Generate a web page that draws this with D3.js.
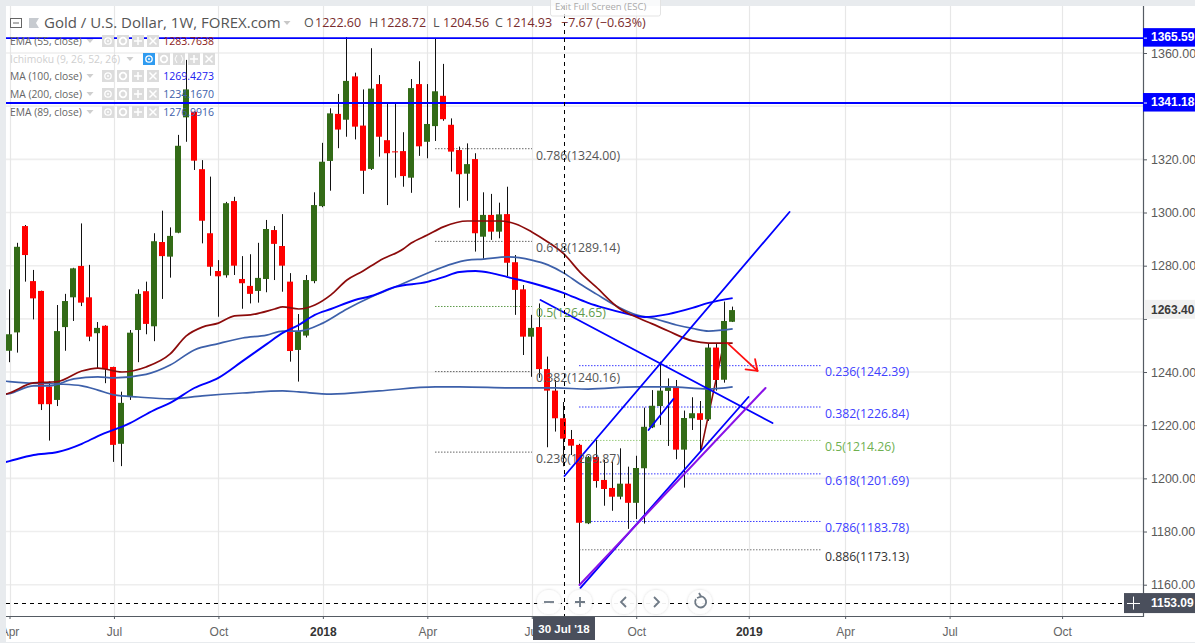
<!DOCTYPE html>
<html><head><meta charset="utf-8">
<script src="https://cdn.jsdelivr.net/npm/d3@7"></script>
<style>html,body{margin:0;padding:0;background:#fff}svg{display:block}text{font-family:"Open Sans","Noto Sans",sans-serif}</style>
</head><body><svg id="c" width="1195" height="643"></svg>
<script>
const firstWeek = "2017-04-03";
const opens = [1248.0,1254.9,1294.9,1274.2,1270.5,1234.5,1229.5,1256.9,1268.1,1279.9,
1268.1,1254.6,1257.4,1241.9,1213.0,1231.0,1255.8,1270.4,1257.2,1288.9,
1283.4,1292.4,1335.8,1337.9,1316.3,1292.2,1278.0,1276.4,1304.3,1275.0,
1272.4,1270.5,1275.0,1293.4,1287.4,1274.0,1248.3,1253.7,1274.2,1302.4,
1319.4,1337.1,1334.9,1351.2,1332.7,1316.4,1348.3,1327.2,1323.0,1323.1,
1313.1,1348.3,1326.6,1332.5,1343.9,1333.0,1323.5,1314.6,1320.1,1290.9,
1299.1,1292.8,1299.4,1281.3,1271.1,1253.3,1256.9,1241.1,1233.0,1222.6,
1214.8,1212.6,1183.1,1208.0,1199.4,1196.4,1193.1,1198.0,1190.8,1203.8,
1219.2,1227.2,1232.9,1234.5,1210.8,1222.6,1224.5,1222.2,1249.2,1237.1,1258.9];
const highs = [1271.1,1288.6,1295.3,1278.4,1270.6,1236.4,1265.2,1269.4,1279.2,1295.9,
1280.3,1258.8,1257.6,1242.0,1232.6,1255.8,1271.1,1274.0,1292.2,1300.7,
1294.4,1329.2,1357.4,1338.0,1319.7,1313.5,1282.1,1304.0,1305.9,1283.6,
1284.3,1288.6,1297.2,1294.9,1299.4,1277.2,1261.8,1276.5,1307.6,1326.2,
1339.2,1344.6,1366.0,1352.6,1346.3,1361.8,1351.7,1341.1,1340.8,1330.2,
1350.2,1356.9,1348.3,1365.6,1355.9,1335.4,1324.8,1326.0,1322.3,1307.6,
1307.0,1303.7,1309.7,1284.0,1272.7,1261.5,1265.8,1245.8,1237.0,1228.72,
1218.2,1213.0,1208.4,1214.4,1206.9,1206.3,1211.3,1204.4,1208.5,1226.6,
1233.2,1243.9,1237.6,1237.0,1225.5,1230.5,1229.1,1250.9,1250.9,1266.5,1264.6];
const lows = [1243.7,1247.3,1274.0,1259.8,1225.7,1214.2,1227.2,1248.0,1259.2,1264.8,
1251.6,1241.5,1235.8,1206.2,1204.6,1229.5,1243.7,1254.2,1251.6,1267.5,
1275.5,1292.2,1326.6,1316.0,1288.4,1276.2,1260.8,1275.5,1276.5,1263.8,
1265.8,1266.1,1270.0,1274.6,1270.2,1243.9,1236.4,1253.0,1273.4,1302.0,
1308.2,1324.2,1328.5,1327.5,1307.0,1316.0,1321.0,1302.8,1313.1,1309.7,
1307.4,1321.3,1320.4,1326.9,1334.5,1315.4,1301.8,1304.4,1285.3,1282.6,
1289.7,1290.3,1276.1,1261.5,1246.4,1238.2,1237.8,1211.7,1217.6,1204.56,
1208.8,1160.3,1182.8,1196.5,1189.7,1187.8,1192.1,1181.0,1184.7,1183.0,
1218.9,1220.1,1212.2,1207.2,1196.5,1218.2,1210.7,1221.6,1233.0,1236.0,1258.8];
const closes = [1254.2,1287.1,1284.0,1267.7,1227.9,1227.9,1255.4,1266.7,1279.0,1266.1,
1253.3,1256.6,1241.1,1212.6,1228.4,1254.8,1269.4,1258.1,1289.2,1283.6,
1291.2,1325.1,1346.3,1319.5,1296.9,1279.6,1276.0,1303.5,1280.0,1273.4,
1269.4,1275.4,1293.8,1288.2,1280.0,1247.9,1255.4,1274.6,1302.8,1319.1,
1337.3,1331.2,1349.5,1332.3,1315.7,1346.6,1328.5,1322.3,1322.8,1313.7,
1346.8,1324.9,1333.3,1345.6,1335.1,1322.9,1314.4,1318.2,1292.2,1299.1,
1292.8,1299.3,1281.1,1270.9,1253.3,1256.6,1241.1,1233.0,1222.6,1214.93,
1212.3,1183.3,1208.0,1199.0,1196.0,1193.1,1198.0,1190.8,1203.9,1219.4,
1227.3,1233.0,1234.5,1210.8,1222.7,1224.5,1222.0,1249.2,1237.0,1259.2,1263.3];

// moving averages: [week index, price]
const ema55 = [[-1,1231.2],[0,1232.1],[3,1235.9],[5,1236.2],[6,1236.4],[9,1240.4],[11,1241.5],[14,1240.0],[17,1241.9],[20,1246.8],[22,1253.6],[24,1256.9],[26,1258.4],[28,1261.1],[30,1261.5],[33,1263.7],[34,1264.5],[36,1263.7],[38,1265.2],[40,1269.0],[42,1274.6],[44,1278.0],[46,1281.8],[49,1286.3],[50,1288.5],[52,1291.5],[54,1294.6],[57,1296.8],[61,1296.8],[63,1295.7],[65,1292.7],[67,1288.9],[69,1284.4],[71,1277.6],[73,1272.0],[76,1263.7],[78,1260.7],[80,1258.1],[82,1255.4],[85,1251.7],[87,1250.9],[90,1250.9]];
const ema89 = [[-1,1231.4],[0,1231.9],[3,1234.8],[5,1234.8],[8,1237.4],[11,1238.2],[13,1237.8],[17,1239.1],[20,1242.6],[23,1248.3],[26,1250.7],[29,1252.8],[32,1253.9],[34,1255.4],[36,1255.4],[39,1258.4],[42,1263.7],[45,1268.2],[48,1272.0],[50,1274.6],[53,1278.4],[55,1280.6],[57,1282.1],[59,1282.5],[62,1283.3],[65,1282.1],[67,1280.3],[69,1277.2],[71,1273.1],[73,1269.4],[76,1264.1],[78,1261.5],[80,1260.3],[83,1257.7],[85,1256.4],[87,1255.4],[90,1256.2]];
const ma100 = [[-1,1205.7],[0,1206.5],[3,1208.8],[6,1209.9],[9,1213.0],[11,1215.9],[15,1220.8],[18,1225.7],[20,1228.4],[23,1234.0],[26,1237.8],[29,1244.1],[32,1250.5],[34,1254.7],[36,1257.7],[38,1261.5],[40,1263.7],[43,1267.1],[45,1268.6],[48,1272.0],[52,1273.9],[54,1275.7],[56,1277.6],[58,1278.0],[60,1277.2],[62,1275.7],[65,1273.5],[69,1269.7],[72,1266.0],[74,1264.1],[77,1261.8],[79,1260.7],[82,1261.8],[85,1264.1],[87,1266.0],[90,1267.8]];
const ma200 = [[-1,1236.7],[0,1236.4],[2,1235.9],[6,1235.5],[9,1234.8],[11,1233.2],[13,1231.4],[16,1230.6],[20,1229.9],[24,1231.0],[29,1232.1],[34,1232.9],[36,1232.5],[40,1231.7],[46,1232.9],[53,1234.4],[56,1234.4],[63,1234.0],[68,1234.0],[72,1233.6],[78,1234.4],[82,1234.4],[87,1233.6],[90,1234.4]];

// hand-drawn trend lines: [week, price, week, price]
const blueTrends = [[69.07,1200.9,97.08,1300.2],[79.53,1218.2,82.64,1229.9],[66.09,1267.1,94.96,1220.8],[71.06,1158.8,91.97,1230.6]];
const purpleTrend = [70.94,1159.9,94.09,1234.0];
const darkRedTrend = [86.06,1210.7,88.86,1250.2];
const redArrow = [89.36,1250.9,93.09,1240.4];
const hLevels = [1365.59,1341.18];

const fibLeft = [[0.786,1324.00],[0.618,1289.14],[0.5,1264.65],[0.382,1240.16],[0.236,1209.87]];
const fibRight = [[0.236,1242.39],[0.382,1226.84],[0.5,1214.26],[0.618,1201.69],[0.786,1183.78],[0.886,1173.13]];

const priceTicks = [1360,1340,1320,1300,1280,1260,1240,1220,1200,1180,1160];
const hiddenPriceLabels = [1340,1260]; // covered by the price badges
const timeTickDates = ["2017-04-03","2017-07-03","2017-10-02","2018-01-01","2018-04-02","2018-07-02","2018-10-01","2019-01-07","2019-04-01","2019-07-01","2019-10-07"];
const timeTickLabels = ["Apr","Jul","Oct","2018","Apr","Jul","Oct","2019","Apr","Jul","Oct"];
const crosshairDate = "2018-07-30", crosshairPrice = 1153.09, lastPrice = 1263.40;
const legendRows = [["EMA (55, close)","1283.7638"],["Ichimoku (9, 26, 52, 26)",""],["MA (100, close)","1269.4273"],["MA (200, close)","1234.1670"],["EMA (89, close)","1276.9916"]];
const ohlcLabels = [["O","1222.60"],["H","1228.72"],["L","1204.56"],["C","1214.93"]];

const L=6,T=6,R=1143,B=616;
const WEEK=7*864e5, t0=Date.parse(firstWeek+"T00:00:00Z");
const dateOf=w=>new Date(t0+w*WEEK);
const x=d3.scaleUtc().domain([dateOf(0),dateOf(90)]).range([9.5,9.5+8.035*90]);
const y=d3.scaleLinear().domain([1360,1160]).range([53,584.7]);
const X=w=>x(dateOf(w));
const svg=d3.select("#c");
const GREEN="#336b17",RED="#ff0000",PURE="#0000ff",STEEL="#3d60aa",DRED="#8c0b0b",AX="#555b63",TXT="#5a5a5a";
const SANS="'Liberation Sans',sans-serif";

svg.append("rect").attr("width",1195).attr("height",643).attr("fill","#fff");
svg.append("defs").append("clipPath").attr("id","p").append("rect").attr("x",L).attr("y",T).attr("width",R-L).attr("height",B-T);
const defs=svg.select("defs");
const flt=defs.append("filter").attr("id","sh").attr("x","-30%").attr("y","-30%").attr("width","160%").attr("height","160%");
flt.append("feDropShadow").attr("dx",0).attr("dy",0).attr("stdDeviation",1.5).attr("flood-color","#000").attr("flood-opacity",0.18);

// frame bands
svg.append("rect").attr("width",1195).attr("height",T).attr("fill","#e8ebee");
svg.append("rect").attr("width",L).attr("height",643).attr("fill","#e8ebee");
svg.append("rect").attr("y",642).attr("width",1195).attr("height",1).attr("fill","#e8ebee");

const plot=svg.append("g").attr("clip-path","url(#p)");
// grid
plot.selectAll(".gh").data(priceTicks).join("line").attr("x1",L).attr("x2",R)
 .attr("y1",d=>y(d)).attr("y2",d=>y(d)).attr("stroke","#eeeeee").attr("stroke-width",1.6);
const tickDates=timeTickDates.map(d=>new Date(d+"T00:00:00Z"));
plot.selectAll(".gv").data(tickDates).join("line").attr("y1",T).attr("y2",B)
 .attr("x1",d=>Math.round(x(d))+.5).attr("x2",d=>Math.round(x(d))+.5).attr("stroke","#e7e7e7").attr("stroke-width",1.2);

// axes
const yAxis=d3.axisRight(y).tickValues(priceTicks).tickFormat(d=>hiddenPriceLabels.includes(d)?"":d3.format(".2f")(d)).tickSize(4).tickPadding(4);
const yg=svg.append("g").attr("transform",`translate(${R},0)`).call(yAxis);
yg.select(".domain").remove();
svg.append("line").attr("x1",R+.5).attr("x2",R+.5).attr("y1",T).attr("y2",B+1).attr("stroke",AX).attr("stroke-width",1.2);
yg.selectAll("line").attr("stroke",AX);
yg.selectAll("text").attr("fill",TXT).style("font-family",SANS).style("font-size","12.5px");
const xAxis=d3.axisBottom(x).tickValues(tickDates).tickFormat((d,i)=>timeTickLabels[i]).tickSize(3).tickPadding(8);
const xg=svg.append("g").attr("transform",`translate(0,${B})`).call(xAxis);
xg.select(".domain").remove();
svg.append("line").attr("x1",L).attr("x2",R).attr("y1",B+.5).attr("y2",B+.5).attr("stroke",AX).attr("stroke-width",1.2);
xg.selectAll("line").attr("stroke",AX);
xg.selectAll("text").style("font-family",SANS).style("font-size","12px")
  .style("font-weight",(d,i)=>/^20/.test(timeTickLabels[i])?"700":"400")
  .attr("fill",(d,i)=>/^20/.test(timeTickLabels[i])?"#333":"#666");
// keep left tick text visible only inside the pane
svg.append("rect").attr("y",B+1).attr("width",L).attr("height",25).attr("fill","#e8ebee");

// fib levels under marks
function fib(levels,w0,w1,colFn){
  const g=plot.append("g");
  g.selectAll("line").data(levels).join("line").attr("x1",w0).attr("x2",w1)
   .attr("y1",d=>y(d[1])).attr("y2",d=>y(d[1])).attr("stroke",d=>colFn(d)).attr("stroke-width",1).attr("stroke-dasharray","1.5,1.5");
}
const leftCol=d=>d[0]===0.5?"#5f9b4b":"#666";
const rightCol=d=>d[0]===0.5?"#9ccc80":d[0]===0.886?"#777":"#3b3bff";
fib(fibLeft,435,532,leftCol);
fib(fibRight,579,821,rightCol);

// dark red trend behind bars
const seg=(a,c,sw)=>plot.append("line").attr("x1",X(a[0])).attr("y1",y(a[1])).attr("x2",X(a[2])).attr("y2",y(a[3])).attr("stroke",c).attr("stroke-width",sw).attr("stroke-linecap","round");
seg(darkRedTrend,DRED,1.6);

// candles
const bars=d3.range(opens.length).map(i=>({i,o:opens[i],h:highs[i],l:lows[i],c:closes[i]}));
const cx=d=>Math.floor(X(d.i));
plot.selectAll(".wick").data(bars).join("line").attr("x1",d=>cx(d)+.5).attr("x2",d=>cx(d)+.5)
 .attr("y1",d=>y(d.h)).attr("y2",d=>y(d.l)).attr("stroke","#111").attr("stroke-width",1);
plot.selectAll(".body").data(bars).join("rect").attr("x",d=>cx(d)-3).attr("width",6)
 .attr("y",d=>y(Math.max(d.o,d.c))).attr("height",d=>Math.max(1,Math.abs(y(d.o)-y(d.c))))
 .attr("fill",d=>d.c>=d.o?GREEN:RED);

// moving averages
const line=d3.line().x(d=>X(d[0])).y(d=>y(d[1])).curve(d3.curveMonotoneX);
[[ma200,STEEL,1.7],[ema89,STEEL,1.7],[ma100,PURE,1.9],[ema55,DRED,1.7]].forEach(([s,c,w])=>
 plot.append("path").attr("d",line(s)).attr("fill","none").attr("stroke",c).attr("stroke-width",w));

// trend lines
blueTrends.forEach(t=>seg(t,PURE,1.8));
seg(purpleTrend,"#8a12e8",2);
seg(redArrow,"#ff1111",1.8);
const ax2=X(redArrow[2]),ay2=y(redArrow[3]),ang=Math.atan2(ay2-y(redArrow[1]),ax2-X(redArrow[0]));
[-0.62,0.62].forEach(a=>plot.append("line").attr("x1",ax2).attr("y1",ay2)
  .attr("x2",ax2-12*Math.cos(ang+a)).attr("y2",ay2-12*Math.sin(ang+a)).attr("stroke","#ff1111").attr("stroke-width",1.8).attr("stroke-linecap","round"));

// horizontal levels
plot.selectAll(".lvl").data(hLevels).join("line").attr("x1",L).attr("x2",R).attr("y1",d=>y(d)).attr("y2",d=>y(d)).attr("stroke",PURE).attr("stroke-width",1.9);

// fib labels
const fibFmt=d=>`${d[0]}(${d[1].toFixed(2)})`;
svg.append("g").selectAll("text").data(fibLeft).join("text").attr("x",536).attr("y",d=>y(d[1])+6.5).attr("dy","0.35em")
 .attr("fill",d=>d[0]===0.5?"#5f9b4b":"#555").style("font-size","12.3px").text(fibFmt);
svg.append("g").selectAll("text").data(fibRight).join("text").attr("x",825).attr("y",d=>y(d[1])+6.5).attr("dy","0.35em")
 .attr("fill",d=>d[0]===0.5?"#6fb050":d[0]===0.886?"#333":"#4040ff").style("font-size","12.3px").text(fibFmt);

// crosshair
const chX=Math.round(x(new Date(crosshairDate+"T00:00:00Z")))+.5;
svg.append("line").attr("x1",chX).attr("x2",chX).attr("y1",T).attr("y2",B).attr("stroke","#000").attr("stroke-dasharray","4,4");
svg.append("line").attr("x1",L).attr("x2",R).attr("y1",Math.floor(y(crosshairPrice))+.5).attr("y2",Math.floor(y(crosshairPrice))+.5).attr("stroke","#000").attr("stroke-dasharray","4,4");

// nav buttons
const btn=svg.append("g");
[[549,"m"],[580,"p"],[624,"l"],[656,"r"],[700,"u"]].forEach(([bx,k])=>{
  const g=btn.append("g").attr("transform",`translate(${bx},602)`);
  g.append("circle").attr("r",12).attr("fill","#fff").attr("fill-opacity",.92).attr("filter","url(#sh)");
  const st=s=>s.attr("stroke","#6f7a86").attr("stroke-width",1.8).attr("fill","none");
  if(k==="m")st(g.append("path").attr("d","M-5,0H5"));
  if(k==="p")st(g.append("path").attr("d","M-5,0H5M0,-5V5"));
  if(k==="l")st(g.append("path").attr("d","M2,-5L-3,0L2,5"));
  if(k==="r")st(g.append("path").attr("d","M-2,-5L3,0L-2,5"));
  if(k==="u"){st(g.append("path").attr("d","M-4,-3A5.5,5.5 0 1 0 0,-5.5"));st(g.append("path").attr("d","M-1,-9L1,-5.5L-3,-4"));}
});

// blue price badges
const badgeText=(tx,ty,col,s)=>svg.append("text").attr("x",tx).attr("y",ty).attr("dy","0.35em").attr("fill",col).style("font-family",SANS).style("font-weight",700).style("font-size","12px").text(s);
hLevels.forEach(v=>{
  svg.append("rect").attr("x",R).attr("y",y(v)-10).attr("width",52).attr("height",18.5).attr("fill",PURE);
  svg.append("line").attr("x1",R+1).attr("x2",R+4).attr("y1",y(v)).attr("y2",y(v)).attr("stroke","#fff");
  badgeText(1151,y(v)-1,"#fff",v.toFixed(2));
});
// last price
svg.append("rect").attr("x",R+1).attr("y",y(lastPrice)-10).attr("width",51).attr("height",19).attr("fill","#f1f1f1");
badgeText(1151,y(lastPrice),"#3a3a3a",lastPrice.toFixed(2));
// crosshair badges
const cy=y(crosshairPrice);
svg.append("rect").attr("x",R).attr("y",cy-10).attr("width",52).attr("height",20).attr("fill","#4a4f5c");
badgeText(1151,cy,"#fff",crosshairPrice.toFixed(2));
svg.append("rect").attr("x",1124).attr("y",cy-10).attr("width",19).attr("height",20).attr("fill","#4a4f5c");
svg.append("path").attr("d",`M1127,${Math.floor(cy)+.5}H1140M1133.5,${cy-6.5}V${cy+6.5}`).attr("stroke","#fff").attr("fill","none");
svg.append("rect").attr("x",533).attr("y",B+1).attr("width",62).attr("height",23).attr("fill","#4a4f5c");
svg.append("text").attr("x",564).attr("y",629).attr("dy","0.35em").attr("text-anchor","middle").attr("fill","#fff").style("font-family",SANS).style("font-weight",700).style("font-size","11.5px").text("30 Jul '18");

// title
svg.append("rect").attr("x",10.5).attr("y",18.5).attr("width",11).attr("height",9).attr("fill","none").attr("stroke","#666");
svg.append("line").attr("x1",13).attr("x2",19).attr("y1",23).attr("y2",23).attr("stroke","#666");
svg.append("path").attr("d","M29,18H39L36,23L39,28H29Z").attr("fill","#c7cbd0");
svg.append("text").attr("x",44).attr("y",23).attr("dy","0.35em").attr("fill","#555").style("font-size","15px").text("Gold / U.S. Dollar, 1W, FOREX.com");
const caret=(cxp,cyp,col)=>svg.append("path").attr("d",`M${cxp-3.5},${cyp-2}h7l-3.5,4z`).attr("fill",col||"#c8c8c8");
caret(287,23);
const ohlcX=[304,369,433,495], ohlcValX=[315,380,443,506];
ohlcLabels.forEach((d,i)=>{
  svg.append("text").attr("x",ohlcX[i]).attr("y",23).attr("dy","0.35em").style("font-size","12.5px").attr("fill","#555").text(d[0]);
  svg.append("text").attr("x",ohlcValX[i]).attr("y",23).attr("dy","0.35em").style("font-size","12.5px").attr("fill","#7a2c2c").text(d[1]);
});
svg.append("text").attr("x",561).attr("y",23).attr("dy","0.35em").attr("fill","#7a2c2c").style("font-size","12.5px").text("−7.67 (−0.63%)");

// fullscreen tip
svg.append("rect").attr("x",550.5).attr("y",-3).attr("width",110).attr("height",19).attr("rx",2).attr("fill","#fff").attr("fill-opacity",.75).attr("stroke","#e3e3e3");
svg.append("text").attr("x",555).attr("y",9.5).attr("dy","0.1em").attr("fill","#aaa").style("font-size","9.5px").text("Exit Full Screen (ESC)");

// legend
const rowY=[41,59,76,94,112];
const rowCol=["#8c1c1c","#000","#2020f0","#3d60aa","#3d60aa"];
legendRows.forEach((r,i)=>{
  const yy=rowY[i], faded=i===1;
  svg.append("text").attr("x",10).attr("y",yy).attr("dy","0.35em").attr("fill",faded?"#cfcfcf":"#666").style("font-size","10.3px").text(r[0]);
  const icons=faded?[143,158,173,188,203]:[102,117,132,147];
  caret(faded?130:90,yy,"#cfcfcf");
  icons.forEach((ix,k)=>{
    const active=faded&&k===0;
    const g=svg.append("g").attr("transform",`translate(${ix+6},${yy})`);
    g.append("rect").attr("x",-6).attr("y",-6).attr("width",12).attr("height",12).attr("fill",active?"#2f9bf0":"#dcdcdc");
    const kind=faded?["eye","gear","code","plus","x"][k]:["eye","gear","plus","x"][k];
    if(kind==="eye"){g.append("circle").attr("r",3.2).attr("fill","none").attr("stroke","#fff").attr("stroke-width",1.3);g.append("circle").attr("r",1).attr("fill","#fff");}
    if(kind==="gear"){g.append("circle").attr("r",3.3).attr("fill","none").attr("stroke","#fff").attr("stroke-width",1.8);}
    if(kind==="code"){g.append("path").attr("d","M-2,-4L-4,0L-2,4M2,-4L4,0L2,4").attr("stroke","#fff").attr("fill","none");}
    if(kind==="plus"){g.append("path").attr("d","M-4,0H4M0,-4V4").attr("stroke","#fff").attr("stroke-width",1.5);}
    if(kind==="x"){g.append("path").attr("d","M-3.5,-3.5L3.5,3.5M3.5,-3.5L-3.5,3.5").attr("stroke","#fff").attr("stroke-width",1.5);}
  });
  if(r[1]) svg.append("text").attr("x",214).attr("y",yy).attr("dy","0.35em").attr("text-anchor","end").attr("fill",rowCol[i]).style("font-size","10.5px").text(r[1]);
});
</script></body></html>
